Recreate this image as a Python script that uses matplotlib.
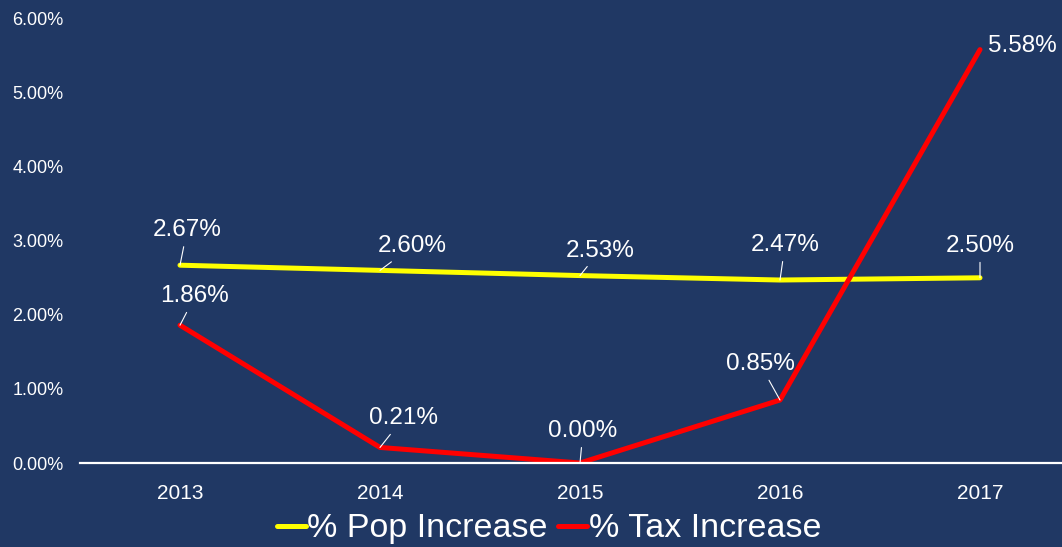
import matplotlib
matplotlib.use("Agg")
import matplotlib.pyplot as plt
from matplotlib.ticker import FuncFormatter

years = ["2013", "2014", "2015", "2016", "2017"]
pop_increase = [2.67, 2.60, 2.53, 2.47, 2.50]
tax_increase = [1.86, 0.21, 0.00, 0.85, 5.58]
y_ticks = [0, 1, 2, 3, 4, 5, 6]

# label offsets (pixels) relative to the data point
pop_offsets = [(7, 35), (32, 24), (20, 25), (5, 35), (0, 32)]
tax_offsets = [(15, 29), (23, 29), (3, 32), (-20, 36), (42, 4)]

BG = "#203864"
plt.rcParams['font.family'] = ['Liberation Sans', 'DejaVu Sans']

fig = plt.figure(figsize=(10.62, 5.47), dpi=100, facecolor=BG)
ax = fig.add_axes([80/1062, 84/547, 1000/1062, (463-18.5)/547])
ax.set_facecolor(BG)

x = list(range(len(years)))
l1, = ax.plot(x, pop_increase, color="#FFFF00", lw=3.6, solid_capstyle="round",
              label="% Pop Increase", zorder=3)
l2, = ax.plot(x, tax_increase, color="#FF0000", lw=3.6, solid_capstyle="round",
              label="% Tax Increase", zorder=4)

ax.set_xlim(-0.5, 4.5)
ax.set_ylim(0, 6)
ax.set_yticks(y_ticks)
ax.yaxis.set_major_formatter(FuncFormatter(lambda v, p: f"{v:.2f}%"))
ax.set_xticks(x)
ax.set_xticklabels(years)
ax.tick_params(axis="y", length=0, pad=12, labelsize=13, labelcolor="white")
ax.tick_params(axis="x", length=0, pad=15, labelsize=15, labelcolor="white")
for s in ["top", "right", "left"]:
    ax.spines[s].set_visible(False)
ax.spines["bottom"].set_color("white")
ax.spines["bottom"].set_linewidth(1.6)
ax.spines["bottom"].set_zorder(5)

def label(xi, yi, off, leader=True):
    ax.annotate(f"{yi:.2f}%", (xi, yi), xytext=off, textcoords="offset pixels",
                ha="center", va="center", color="white", fontsize=17.5,
                arrowprops=dict(arrowstyle="-", color="white", lw=0.8,
                                shrinkA=2, shrinkB=0) if leader else None,
                zorder=6, annotation_clip=False)

for i, v in enumerate(pop_increase):
    label(x[i], v, pop_offsets[i])
for i, v in enumerate(tax_increase):
    label(x[i], v, tax_offsets[i], leader=(i != 4))

leg = fig.legend(handles=[l1, l2], loc="center", bbox_to_anchor=(0.517, 0.033),
                 ncol=2, frameon=False, fontsize=24.5, handlelength=0.85,
                 handletextpad=0.05, columnspacing=0.3, labelcolor="white",
                 borderaxespad=0, borderpad=0)

fig.savefig("out.png", dpi=100, facecolor=BG)
